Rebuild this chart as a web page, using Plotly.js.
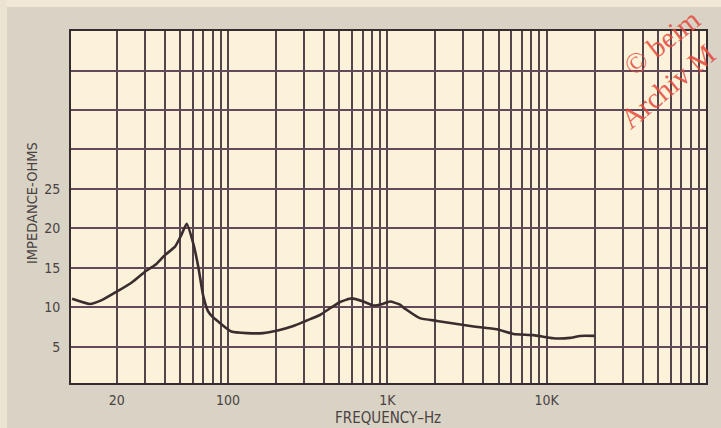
<!DOCTYPE html>
<html>
<head>
<meta charset="utf-8">
<script src="https://cdn.plot.ly/plotly-3.0.1.min.js"></script>
<style>
  html, body { margin: 0; padding: 0; background: #d9d3c5; }
  #chart { width: 721px; height: 428px; }
</style>
</head>
<body>
<div id="chart"></div>
<script>
// Impedance curve
const frequencyHz = [10.5, 13.6, 16, 20, 25, 30, 35, 40, 46.5, 51, 55, 60.5, 65, 70, 75, 80, 87, 105, 131, 166, 202, 257, 312, 378, 437, 505, 598, 707, 818, 920, 1040, 1200, 1300, 1600, 2050, 2740, 3480, 4870, 6190, 8250, 11000, 14000, 16200, 20000];
const impedanceOhms = [11.1, 10.45, 10.9, 12.0, 13.2, 14.5, 15.4, 16.6, 17.7, 19.2, 20.6, 18.1, 15.2, 11.4, 9.5, 8.8, 8.2, 6.95, 6.75, 6.75, 7.05, 7.65, 8.35, 9.05, 9.9, 10.7, 11.15, 10.75, 10.25, 10.4, 10.75, 10.35, 9.8, 8.65, 8.3, 7.9, 7.6, 7.25, 6.65, 6.5, 6.1, 6.15, 6.4, 6.4];

const xGridVals = [20, 30, 40, 50, 60, 70, 80, 90, 100, 200, 300, 400, 500, 600, 700, 800, 900, 1000, 2000, 3000, 4000, 5000, 6000, 7000, 8000, 9000, 10000, 20000, 30000, 40000, 50000, 60000, 70000, 80000, 90000];
const xLabelMap = {20: '20', 100: '100', 1000: '1K', 10000: '10K'};
const xGridText = xGridVals.map(v => xLabelMap[v] || '');

const yGridVals = [5, 10, 15, 20, 25, 30, 35, 40];
const yGridText = ['5', '10', '15', '20', '25', '', '', ''];

const fam = '"Liberation Sans Narrow", "DejaVu Sans Condensed", "Roboto Condensed", sans-serif';
const labelFont = {family: fam, size: 14, color: '#4a4242'};
const markFont = {family: '"Liberation Serif", "DejaVu Serif", serif', size: 29, color: 'rgba(228,72,60,0.85)'};

const trace = {
  x: frequencyHz,
  y: impedanceOhms,
  type: 'scatter',
  mode: 'lines',
  line: {color: '#3b2d2f', width: 2.6, shape: 'spline', smoothing: 0.5},
  hoverinfo: 'skip'
};

const W = 635, H = 352;
const layout = {
  width: 721, height: 428,
  margin: {l: 71, r: 15, t: 31, b: 45, pad: 0},
  paper_bgcolor: '#d9d3c5',
  plot_bgcolor: '#fcf2da',
  showlegend: false,
  xaxis: {
    type: 'log',
    range: [1.0144, 5.0],
    tickmode: 'array',
    tickvals: xGridVals,
    ticktext: xGridText,
    ticks: '',
    ticklabelstandoff: 3,
    showgrid: true,
    gridcolor: '#54454c',
    gridwidth: 2,
    showline: true,
    mirror: true,
    linecolor: '#352c30',
    linewidth: 2,
    zeroline: false,
    tickfont: labelFont,
    fixedrange: true
  },
  yaxis: {
    range: [0.44, 45],
    tickmode: 'array',
    tickvals: yGridVals,
    ticktext: yGridText,
    ticks: '',
    ticklabelstandoff: 6,
    showgrid: true,
    gridcolor: '#64495a',
    gridwidth: 2,
    showline: true,
    mirror: true,
    linecolor: '#352c30',
    linewidth: 2,
    zeroline: false,
    tickfont: labelFont,
    fixedrange: true
  },
  shapes: [
    {type: 'rect', xref: 'paper', yref: 'paper', layer: 'below',
     x0: -71 / W, x1: 650 / W, y0: 1 + (31 - 7) / H, y1: 1 + 31 / H,
     fillcolor: '#f1e9d6', line: {width: 0}},
    {type: 'rect', xref: 'paper', yref: 'paper', layer: 'below',
     x0: -71 / W, x1: (7 - 71) / W, y0: -45 / H, y1: 1 + 31 / H,
     fillcolor: '#ece4d2', line: {width: 0}}
  ],
  annotations: [
    {text: 'FREQUENCY–Hz', xref: 'paper', yref: 'paper', x: (388 - 71) / W, y: (383 - 418) / H,
     showarrow: false, xanchor: 'center', yanchor: 'middle',
     font: {family: fam, size: 15, color: '#4a4242'}},
    {text: 'IMPEDANCE-OHMS', xref: 'paper', yref: 'paper', x: (32 - 71) / W, y: (383 - 203) / H,
     showarrow: false, xanchor: 'center', yanchor: 'middle', textangle: -90,
     font: {family: fam, size: 14.5, color: '#4a4242'}},
    {text: '© beim', xref: 'paper', yref: 'paper', x: (662 - 71) / W, y: (383 - 42) / H,
     showarrow: false, xanchor: 'center', yanchor: 'middle', textangle: -38,
     font: markFont},
    {text: 'Archiv M', xref: 'paper', yref: 'paper', x: (668 - 71) / W, y: (383 - 86) / H,
     showarrow: false, xanchor: 'center', yanchor: 'middle', textangle: -40,
     font: markFont}
  ]
};

Plotly.newPlot('chart', [trace], layout, {displayModeBar: false, staticPlot: true});
</script>
</body>
</html>
